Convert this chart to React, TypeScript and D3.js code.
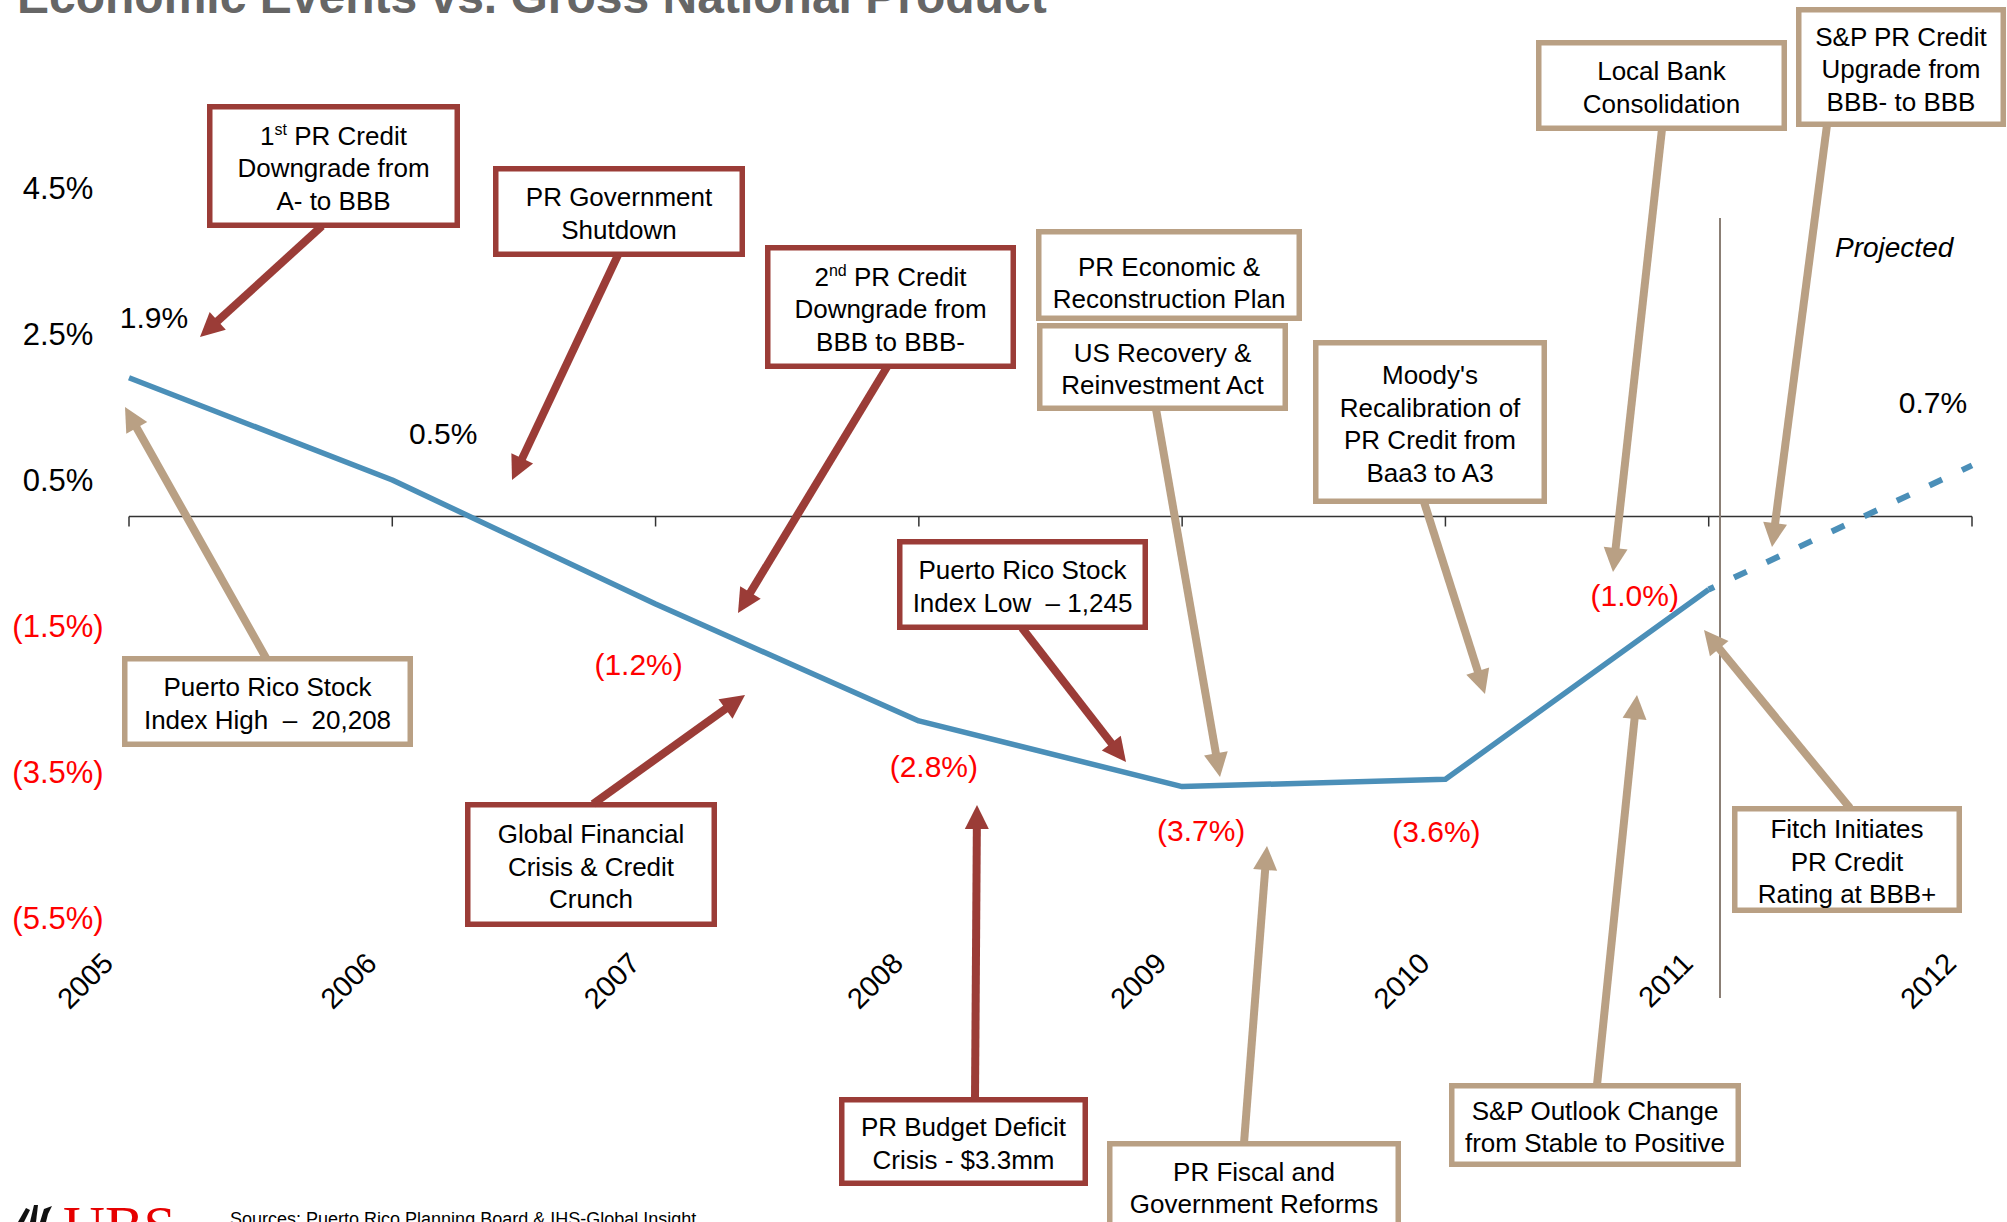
import React from 'react';
import * as d3 from 'd3';

// GNP growth, % (2012 projected)
const years = ['2005', '2006', '2007', '2008', '2009', '2010', '2011', '2012'];
const gnpGrowth = [1.9, 0.5, -1.2, -2.8, -3.7, -3.6, -1.0, 0.7];
const projectedFrom = '2011';
const yTickValues = [4.5, 2.5, 0.5, -1.5, -3.5, -5.5];

// where each value label sits relative to its point (px)
const labelOffsets = [[25, -60], [51, -47], [-17, 60], [15, 46], [19, 44], [-9, 52], [-74, 6], [-39, -63]];

const RED = '#9b3c37';
const TAN = '#b9a084';
const FONT = '"Liberation Sans", Arial, Helvetica, sans-serif';

// event call-outs: outer box edges [x0, y0, x1, y1], arrow start -> tip
const events = [
  { kind: 'red', lines: ['1^st PR Credit', 'Downgrade from', 'A- to BBB'], box: [207, 104, 460, 228], from: [322, 226], to: [200, 337] },
  { kind: 'red', lines: ['PR Government', 'Shutdown'], box: [493, 166, 745, 257], from: [618, 255], to: [512, 480] },
  { kind: 'red', lines: ['2^nd PR Credit', 'Downgrade from', 'BBB to BBB-'], box: [765, 245, 1016, 369], from: [887, 367], to: [738, 613] },
  { kind: 'tan', lines: ['PR Economic &', 'Reconstruction Plan'], box: [1036, 229, 1302, 321], cy: 283 },
  { kind: 'tan', lines: ['US Recovery &', 'Reinvestment Act'], box: [1037, 323, 1288, 411], from: [1156, 409], to: [1220, 777] },
  { kind: 'tan', lines: ["Moody's", 'Recalibration of', 'PR Credit from', 'Baa3 to A3'], box: [1313, 340, 1547, 504], from: [1424, 502], to: [1485, 694] },
  { kind: 'red', lines: ['Puerto Rico Stock', 'Index Low  \u2013 1,245'], box: [897, 539, 1148, 630], from: [1022, 628], to: [1126, 762] },
  { kind: 'tan', lines: ['Puerto Rico Stock', 'Index High  \u2013  20,208'], box: [122, 656, 413, 747], from: [266, 658], to: [125, 407] },
  { kind: 'red', lines: ['Global Financial', 'Crisis & Credit', 'Crunch'], box: [465, 802, 717, 927], from: [593, 804], to: [745, 695] },
  { kind: 'red', lines: ['PR Budget Deficit', 'Crisis - $3.3mm'], box: [839, 1097, 1088, 1186], from: [975, 1099], to: [977, 805] },
  { kind: 'tan', lines: ['PR Fiscal and', 'Government Reforms'], box: [1107, 1141, 1401, 1240], cy: 1188, from: [1244, 1143], to: [1267, 846] },
  { kind: 'tan', lines: ['S&P Outlook Change', 'from Stable to Positive'], box: [1449, 1083, 1741, 1167], from: [1597, 1085], to: [1637, 695] },
  { kind: 'tan', lines: ['Fitch Initiates', 'PR Credit', 'Rating at BBB+'], box: [1732, 806, 1962, 913], from: [1850, 808], to: [1704, 630] },
  { kind: 'tan', lines: ['Local Bank', 'Consolidation'], box: [1536, 40, 1787, 131], from: [1662, 129], to: [1613, 572] },
  { kind: 'tan', lines: ['S&P PR Credit', 'Upgrade from', 'BBB- to BBB'], box: [1796, 7, 2006, 127], from: [1827, 125], to: [1772, 547] },
];

const fmtPct = (v: number) => (v < 0 ? `(${Math.abs(v).toFixed(1)}%)` : `${v.toFixed(1)}%`);

function Arrow({ from, to, color }: { from: number[]; to: number[]; color: string }) {
  const [x1, y1] = from;
  const [x2, y2] = to;
  const len = Math.hypot(x2 - x1, y2 - y1);
  const ux = (x2 - x1) / len;
  const uy = (y2 - y1) / len;
  const head = 24;
  const half = 12;
  const bx = x2 - ux * head;
  const by = y2 - uy * head;
  const pts = [
    [x2, y2],
    [bx - uy * half, by + ux * half],
    [bx + uy * half, by - ux * half],
  ];
  return (
    <g>
      <line x1={x1} y1={y1} x2={bx + ux * 2} y2={by + uy * 2} stroke={color} strokeWidth={8} />
      <polygon points={pts.map(p => p.join(',')).join(' ')} fill={color} />
    </g>
  );
}

function LineText({ str }: { str: string }) {
  const m = str.match(/^(\d)\^(st|nd)(.*)$/);
  if (!m) return <>{str}</>;
  return (
    <>
      <tspan>{m[1]}</tspan>
      <tspan fontSize={16} dy={-10}>{m[2]}</tspan>
      <tspan dy={10}>{m[3]}</tspan>
    </>
  );
}

export default function App() {
  const x = d3.scalePoint<string>().domain(years).range([129, 1972]);
  const y = d3.scaleLinear().domain([-5.5, 4.5]).range([918, 188]);

  const pts = years.map((yr, i) => ({ yr, v: gnpGrowth[i], i }));
  const split = years.indexOf(projectedFrom);
  const line = d3.line<{ yr: string; v: number }>().x(d => x(d.yr) as number).y(d => y(d.v));

  const sw = 5.5;
  const y0 = y(0);

  return (
    <div style={{ position: 'absolute', left: 0, top: 0, width: 2007, height: 1222, overflow: 'hidden', background: '#fff' }}>
      <svg width={2007} height={1222} style={{ display: 'block' }} fontFamily={FONT}>
        <rect width={2007} height={1222} fill="#fff" />

        {/* title, cut at the top edge as in the slide */}
        <text x={17} y={13} fontSize={48} fontWeight="bold" fill="#666">
          Economic Events vs. Gross National Product
        </text>

        {/* y labels */}
        {yTickValues.map(v => (
          <text key={v} x={58} y={y(v)} dy="0.35em" textAnchor="middle" fontSize={31} fill={v < 0 ? '#ff0000' : '#000'}>
            {fmtPct(v)}
          </text>
        ))}

        {/* x axis */}
        <line x1={x(years[0])} x2={x(years[years.length - 1])} y1={y0} y2={y0} stroke="#333" strokeWidth={1.5} />
        {years.map(yr => (
          <line key={yr} x1={x(yr)} x2={x(yr)} y1={y0} y2={y0 + 10} stroke="#333" strokeWidth={1.5} />
        ))}
        {years.map(yr => (
          <text key={'l' + yr} transform={`translate(${(x(yr) as number) - 14},965) rotate(-45)`} textAnchor="end" fontSize={29} fill="#000">
            {yr}
          </text>
        ))}

        {/* projection divider */}
        <line x1={1720} x2={1720} y1={218} y2={998} stroke="#8b7f75" strokeWidth={2} />
        <text x={1835} y={257} fontSize={28} fontStyle="italic" fill="#000">Projected</text>

        {/* GNP line */}
        <path d={line(pts.slice(0, split + 1)) || ''} fill="none" stroke="#4b8fb8" strokeWidth={5.5} strokeLinejoin="round" />
        <path d={line(pts.slice(split)) || ''} fill="none" stroke="#4b8fb8" strokeWidth={6} strokeDasharray="14 22" strokeDashoffset={-28} />

        {pts.map(d => (
          <text key={'v' + d.yr} x={(x(d.yr) as number) + labelOffsets[d.i][0]} y={y(d.v) + labelOffsets[d.i][1]} dy="0.35em" textAnchor="middle" fontSize={30} fill={d.v < 0 ? '#ff0000' : '#000'}>
            {fmtPct(d.v)}
          </text>
        ))}

        {/* call-out boxes */}
        {events.map((e, k) => {
          const color = e.kind === 'red' ? RED : TAN;
          const [bx0, by0, bx1, by1] = e.box;
          const cx = (bx0 + bx1) / 2;
          const cy = e.cy ?? (by0 + by1) / 2 + 2;
          const lh = 32.5;
          const top = cy - ((e.lines.length - 1) * lh) / 2;
          return (
            <g key={k}>
              <rect x={bx0 + sw / 2} y={by0 + sw / 2} width={bx1 - bx0 - sw} height={by1 - by0 - sw} fill="#fff" stroke={color} strokeWidth={sw} />
              {e.lines.map((ln, j) => (
                <text key={j} x={cx} y={top + j * lh} dy="0.35em" textAnchor="middle" fontSize={26} fill="#000" style={{ whiteSpace: 'pre' }}>
                  <LineText str={ln} />
                </text>
              ))}
            </g>
          );
        })}

        {/* arrows */}
        {events.filter(e => e.from).map((e, k) => (
          <Arrow key={k} from={e.from as number[]} to={e.to as number[]} color={e.kind === 'red' ? RED : TAN} />
        ))}

        {/* footer, cut at the bottom edge as in the slide */}
        <g fill="#111">
          <path d="M18 1222 L26 1208 L30 1210 L24 1222 Z" />
          <path d="M30 1222 L34 1205 L38 1205 L36 1222 Z" />
          <path d="M40 1222 L44 1209 L52 1206 L48 1214 L46 1222 Z" />
        </g>
        <text x={63} y={1246} fontSize={58} fontFamily='"Liberation Serif", "Times New Roman", serif' fill="#e60000">UBS</text>
        <text x={230} y={1225} fontSize={18} fill="#000">Sources: Puerto Rico Planning Board &amp; IHS-Global Insight</text>
      </svg>
    </div>
  );
}
